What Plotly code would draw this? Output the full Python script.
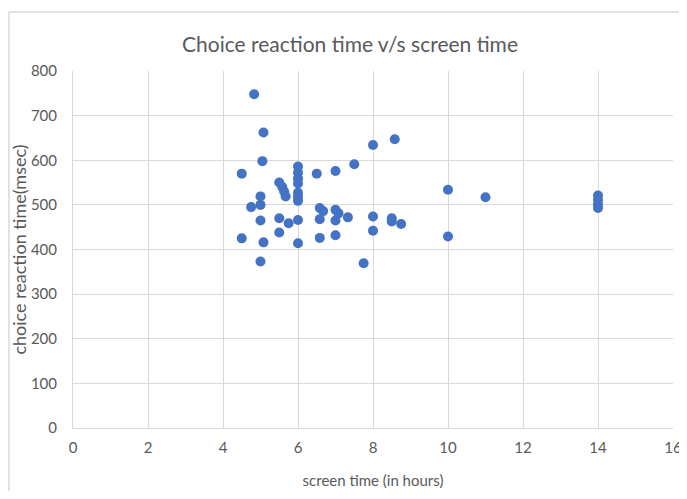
import plotly.graph_objects as go

# screen time (hours)
screen_time = [
    4.83, 5.08, 5.05, 4.5,
    6, 6, 6, 6, 6, 6, 6, 6, 6,
    6.5, 7, 4.5,
    5, 5, 4.75, 5, 5.08, 5,
    5.5, 5.58, 5.63, 5.67,
    5.5, 5.75, 5.5,
    6.58, 6.58, 6.67, 6.58,
    7, 7, 7.08, 7.33, 7,
    7.5, 8, 8.58,
    8, 8,
    8.5, 8.5, 8.75,
    7.75,
    10, 10, 11,
    14, 14, 14, 14,
]
# choice reaction time (msec)
reaction_time = [
    748, 662, 598, 570,
    586, 572, 559, 548, 527, 518, 509, 466, 414,
    570, 576, 425,
    519, 500, 495, 465, 416, 373,
    550, 540, 530, 519,
    470, 459, 438,
    468, 493, 486, 426,
    489, 465, 481, 472, 432,
    591, 634, 647,
    474, 442,
    470, 463, 457,
    369,
    534, 429, 517,
    521, 511, 501, 493,
]

x_ticks = [0, 2, 4, 6, 8, 10, 12, 14, 16]
y_ticks = [0, 100, 200, 300, 400, 500, 600, 700, 800]

OFF = 8  # page body margin
W, H = 687, 499 - 2 * OFF
ML, MR, MT, MB = 73 - OFF, 687 + OFF - 673, 71 - OFF, 71 - OFF
pw = W - ML - MR
ph = H - MT - MB

def px_x(p):
    return (p - OFF - ML) / pw

def px_y(p):
    return (H - MB - (p - OFF)) / ph

grey = "#595959"
grid = "#d9d9d9"
font = "Lato"

fig = go.Figure()
fig.add_trace(go.Scatter(
    x=screen_time, y=reaction_time, mode="markers",
    marker=dict(color="#4472C4", size=10, line=dict(width=0)),
    showlegend=False,
))

fig.update_layout(
    width=W, height=H,
    margin=dict(l=ML, r=MR, t=MT, b=MB, autoexpand=False),
    paper_bgcolor="white", plot_bgcolor="white",
    title=dict(text="Choice reaction time v/s screen time",
               x=px_x(350), xref="paper", xanchor="center",
               y=1 - (45 - OFF) / H, yref="container", yanchor="middle",
               font=dict(family=font, size=21, color=grey)),
    font=dict(family=font, color=grey),
    xaxis=dict(range=[0, 16], tickvals=x_ticks, showgrid=True, gridcolor=grid,
               gridwidth=1, zeroline=False, showline=True, linecolor=grid,
               ticks="", tickfont=dict(size=15, color=grey),
               ticklabelstandoff=6, automargin=False,
               title=dict(text="screen time (in hours)", standoff=20,
                          font=dict(size=15, color=grey))),
    yaxis=dict(range=[0, 800], tickvals=y_ticks, showgrid=True, gridcolor=grid,
               gridwidth=1, zeroline=False, showline=True, linecolor=grid,
               ticks="", tickfont=dict(size=15, color=grey),
               ticklabelstandoff=12, automargin=False,
               title=dict(text="choice reaction time(msec)", standoff=8,
                          font=dict(size=18, color=grey))),
    shapes=[
        dict(type="line", xref="paper", yref="paper",
             x0=px_x(9), x1=px_x(700), y0=px_y(12), y1=px_y(12),
             line=dict(color=grid, width=1.5)),
        dict(type="line", xref="paper", yref="paper",
             x0=px_x(9), x1=px_x(9), y0=px_y(12), y1=px_y(520),
             line=dict(color=grid, width=1.5)),
    ],
)

fig.write_html("out.html")
